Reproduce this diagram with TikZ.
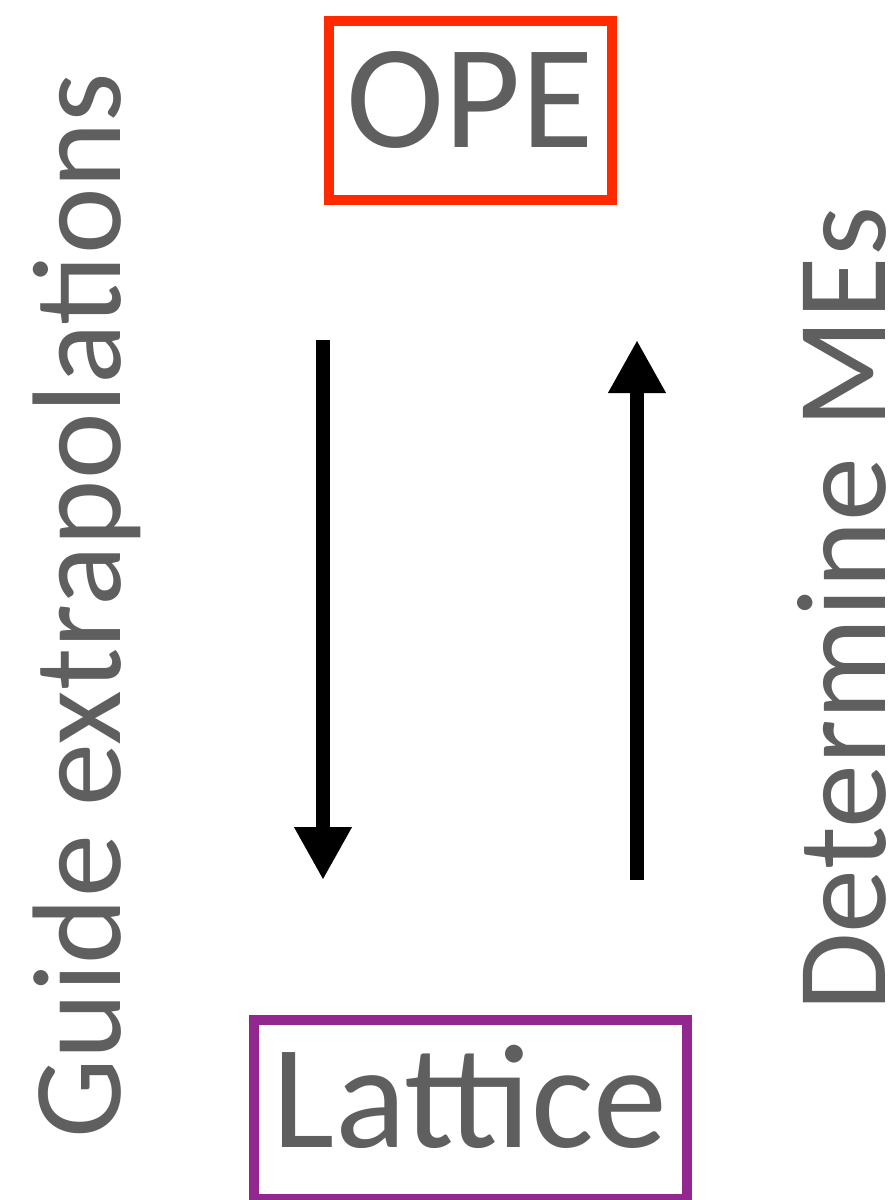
\documentclass[tikz,border=0pt]{standalone}
\usepackage{fontspec}
\setmainfont{Carlito}
\usetikzlibrary{arrows.meta}
\definecolor{txtgray}{HTML}{5F5F5F}
\definecolor{opered}{HTML}{FF2A00}
\definecolor{latpurple}{HTML}{92278F}
\tikzset{
  boxnode/.style={draw, line width=10pt, rectangle, inner sep=0pt, text=txtgray,
    font=\fontsize{148}{148}\selectfont, text height=100pt, text depth=25pt},
  sidelabel/.style={rotate=90, inner sep=0pt, text=txtgray, anchor=base west,
    text depth=0pt},
  bigarrow/.style={line width=13.5pt, -{Triangle[width=54pt,length=53pt]}}
}
\begin{document}
\begin{tikzpicture}[x=1pt,y=-1pt]
\useasboundingbox (0,0) rectangle (893,1200);
\node[boxnode, draw=opered, minimum width=283.5pt, minimum height=179.5pt] (ope) at (470.25,110.25) {OPE};
\node[boxnode, draw=latpurple, minimum width=433.5pt, minimum height=179pt] (lat) at (470.25,1109.5) {Lattice};
\node[sidelabel, font=\fontsize{126.2}{126.2}\selectfont] (guide) at (120,1139) {Guide extrapolations};
\node[sidelabel, font=\fontsize{128}{128}\selectfont] (det) at (885,1012) {Determine MEs};
\coordinate (d1) at (323,340);
\coordinate (d2) at (323,880);
\coordinate (u1) at (637,880);
\coordinate (u2) at (637,340);
\draw[bigarrow] (d1) -- (d2);
\draw[bigarrow] (u1) -- (u2);
\end{tikzpicture}
\end{document}
